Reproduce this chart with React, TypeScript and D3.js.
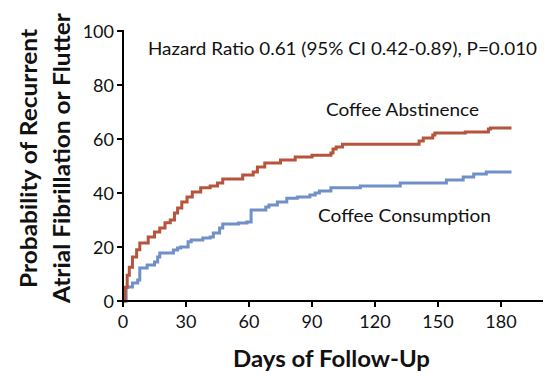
import React from "react";
import * as d3 from "d3";

const abstDays = [0, 1, 2, 3, 4.5, 6.5, 8, 12, 15, 17.5, 20, 22.5, 24.5, 26, 28, 30.5, 33, 37, 41.5, 45, 47.5, 57, 62, 64, 67.5, 75, 82, 90, 99, 100, 101.5, 104.5, 141, 143, 147.5, 148.5, 163, 174, 175, 185];
const abstValues = [0, 5, 9.5, 12.5, 16.3, 19, 21.5, 23.7, 25.6, 27, 29, 30, 32.6, 34.4, 36.7, 38.5, 40.4, 41.9, 42.6, 43.7, 45.2, 46.7, 47.8, 49.6, 51.1, 52.2, 53.3, 54, 54.8, 56.3, 57, 58.1, 59.3, 60.4, 61.5, 62.2, 62.6, 63.7, 64.1, 64.1];

const consDays = [0, 1.5, 4.5, 7, 8, 11.5, 15, 16.5, 17.5, 24, 26, 27.5, 31, 32.5, 38, 41.5, 43, 46, 47.5, 55, 59, 61, 68, 69.5, 73.5, 78, 83, 89, 91.5, 93.5, 99, 113, 132, 154, 162, 167, 173, 185];
const consValues = [0, 5.2, 6.7, 7.8, 12.2, 13.3, 14.4, 16.3, 17.8, 18.9, 19.6, 20, 21.9, 22.6, 23.3, 23.7, 25.2, 27, 28.5, 28.9, 29.3, 33.7, 34.8, 35.6, 36.7, 38.1, 38.5, 39.3, 40, 40.7, 41.9, 42.6, 43.7, 44.8, 45.9, 47, 47.8, 47.8];

const xTicks = [0, 30, 60, 90, 120, 150, 180];
const yTicks = [0, 20, 40, 60, 80, 100];

const seriesNames = ["Coffee Abstinence", "Coffee Consumption"];
const annotation = "Hazard Ratio 0.61 (95% CI 0.42-0.89), P=0.010";
const xTitle = "Days of Follow-Up";
const yTitle = ["Probability of Recurrent", "Atrial Fibrillation or Flutter"];

const RED = "#b6543c";
const BLUE = "#7090c8";
const FONT = "Lato, 'Open Sans', sans-serif";

export default function App() {
  const x = d3.scaleLinear().domain([0, 200]).range([123, 543]);
  const y = d3.scaleLinear().domain([0, 100]).range([301, 31]);
  const line = d3
    .line<[number, number]>()
    .x((d) => x(d[0]))
    .y((d) => y(d[1]))
    .curve(d3.curveStepAfter);
  const abst = abstDays.map((d, i) => [d, abstValues[i]] as [number, number]);
  const cons = consDays.map((d, i) => [d, consValues[i]] as [number, number]);

  return (
    <svg width={558} height={381} style={{ position: "absolute", left: 0, top: 0, background: "#fff" }} fontFamily={FONT}>
      <path d={line(cons) || ""} fill="none" stroke={BLUE} strokeWidth={3} />
      <path d={line(abst) || ""} fill="none" stroke={RED} strokeWidth={3} />
      {/* axes */}
      <line x1={x(0)} x2={x(0)} y1={y(100) - 1} y2={y(0) + 1} stroke="#000" strokeWidth={2} />
      <line x1={x(0) - 1} x2={x(200)} y1={y(0)} y2={y(0)} stroke="#000" strokeWidth={2} />
      {yTicks.map((t) => (
        <g key={"y" + t}>
          <line x1={x(0) - 6} x2={x(0)} y1={y(t)} y2={y(t)} stroke="#000" strokeWidth={2} />
          <text x={x(0) - 9} y={y(t)} textAnchor="end" dominantBaseline="central" fontSize={18} fill="#111">
            {t}
          </text>
        </g>
      ))}
      {xTicks.map((t) => (
        <g key={"x" + t}>
          <line x1={x(t)} x2={x(t)} y1={y(0)} y2={y(0) + 6} stroke="#000" strokeWidth={2} />
          <text x={x(t)} y={328} textAnchor="middle" fontSize={18} fill="#111">
            {t}
          </text>
        </g>
      ))}
      <text x={148} y={55} fontSize={17.5} textLength={389} lengthAdjust="spacingAndGlyphs" fill="#111">
        {annotation}
      </text>
      <text x={326} y={116} fontSize={18} textLength={153} lengthAdjust="spacingAndGlyphs" fill="#111">
        {seriesNames[0]}
      </text>
      <text x={318} y={222} fontSize={18} textLength={173} lengthAdjust="spacingAndGlyphs" fill="#111">
        {seriesNames[1]}
      </text>
      <text x={233} y={367} fontSize={23} fontWeight="bold" textLength={197} lengthAdjust="spacingAndGlyphs" fill="#111">
        {xTitle}
      </text>
      <text transform="translate(37,288) rotate(-90)" fontSize={22} fontWeight="bold" textLength={259} lengthAdjust="spacingAndGlyphs" fill="#111">
        {yTitle[0]}
      </text>
      <text transform="translate(70,303) rotate(-90)" fontSize={22} fontWeight="bold" textLength={290} lengthAdjust="spacingAndGlyphs" fill="#111">
        {yTitle[1]}
      </text>
    </svg>
  );
}
